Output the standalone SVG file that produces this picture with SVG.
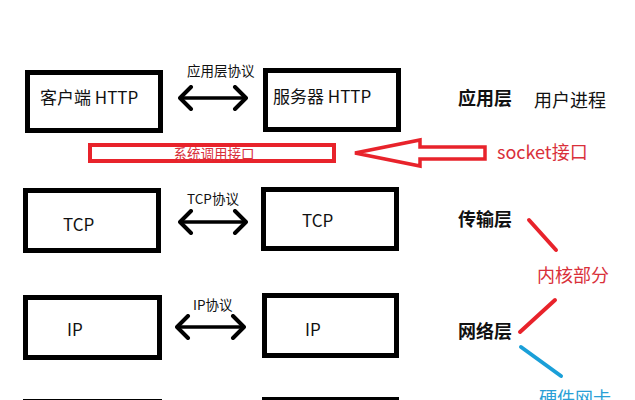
<svg xmlns="http://www.w3.org/2000/svg" width="635" height="400" viewBox="0 0 635 400">
<style>
.box{fill:#fff;stroke:#000;stroke-width:5}
.t{font-family:"Noto Sans CJK SC","Noto Sans",sans-serif;fill:#111}
.lbl{font-size:17px}
.proto{font-size:13.5px}
.layer{font-size:18px;font-weight:bold}
.red{fill:#d9303a}
.blue{fill:#2a9fd6}
.conn{stroke:#000;stroke-width:3.5;fill:none}
</style>
<defs>
<marker id="chev" viewBox="0 0 16 26" refX="14" refY="13" markerWidth="16" markerHeight="26" markerUnits="userSpaceOnUse" orient="auto-start-reverse">
<path d="M3,2 L14,13 L3,24" fill="none" stroke="#000" stroke-width="4" stroke-linecap="round" stroke-linejoin="round"/>
</marker>
</defs>
<rect width="635" height="400" fill="#fff"/>

<g id="client-http">
<rect class="box" x="27.5" y="72.5" width="133" height="58"/>
<text class="t lbl" x="40" y="104">客户端 HTTP</text>
</g>
<g id="server-http">
<rect class="box" x="265.5" y="70.5" width="133" height="59"/>
<text class="t lbl" x="273" y="103">服务器 HTTP</text>
</g>
<g id="client-tcp">
<rect class="box" x="25.5" y="190.5" width="133" height="60"/>
<text class="t lbl" x="63" y="231">TCP</text>
</g>
<g id="server-tcp">
<rect class="box" x="263.5" y="189.5" width="133" height="59"/>
<text class="t lbl" x="302" y="227">TCP</text>
</g>
<g id="client-ip">
<rect class="box" x="25.5" y="297.5" width="134" height="60"/>
<text class="t lbl" x="67" y="336">IP</text>
</g>
<g id="server-ip">
<rect class="box" x="264.5" y="295.5" width="132" height="60"/>
<text class="t lbl" x="305" y="336">IP</text>
</g>
<g id="client-bottom">
<rect class="box" x="25.5" y="401.5" width="134" height="60" stroke="#bbb"/>
</g>
<g id="server-bottom">
<rect class="box" x="264.5" y="399.5" width="132" height="60"/>
</g>

<g id="syscall">
<rect x="90" y="145" width="244" height="16" fill="#fff" stroke="#e8232b" stroke-width="4"/>
<text class="t red" x="214" y="159" font-size="13.5" text-anchor="middle">系统调用接口</text>
</g>

<g id="socket">
<text class="t red" x="497" y="159" font-size="18">socket接口</text>
</g>

<g id="layer-labels">
<text class="t layer" x="458" y="105">应用层</text>
<text class="t" x="534" y="107" font-size="18">用户进程</text>
<text class="t layer" x="458" y="226">传输层</text>
<text class="t layer" x="458" y="338">网络层</text>
<text class="t red" x="537" y="282" font-size="18">内核部分</text>
<text class="t blue" x="539" y="405" font-size="18">硬件网卡</text>
</g>

<g id="connectors">
<text class="t proto" x="187" y="76">应用层协议</text>
<line class="conn" x1="180" y1="98" x2="246" y2="98" marker-start="url(#chev)" marker-end="url(#chev)"/>
<text class="t proto" x="187" y="204">TCP协议</text>
<line class="conn" x1="180" y1="222" x2="246" y2="222" marker-start="url(#chev)" marker-end="url(#chev)"/>
<text class="t proto" x="193" y="310">IP协议</text>
<line class="conn" x1="177" y1="327" x2="244" y2="327" marker-start="url(#chev)" marker-end="url(#chev)"/>
<polygon points="355,153 420,140 420,147 485,147 485,159 420,159 420,166" fill="none" stroke="#e8232b" stroke-width="3.5" stroke-linejoin="miter"/>
<line x1="529" y1="220" x2="556" y2="250" stroke="#e8232b" stroke-width="4" stroke-linecap="round"/>
<line x1="555" y1="300" x2="520" y2="332" stroke="#e8232b" stroke-width="4" stroke-linecap="round"/>
<line x1="521" y1="347" x2="561" y2="376" stroke="#1a9fd8" stroke-width="4" stroke-linecap="round"/>
</g>
</svg>
